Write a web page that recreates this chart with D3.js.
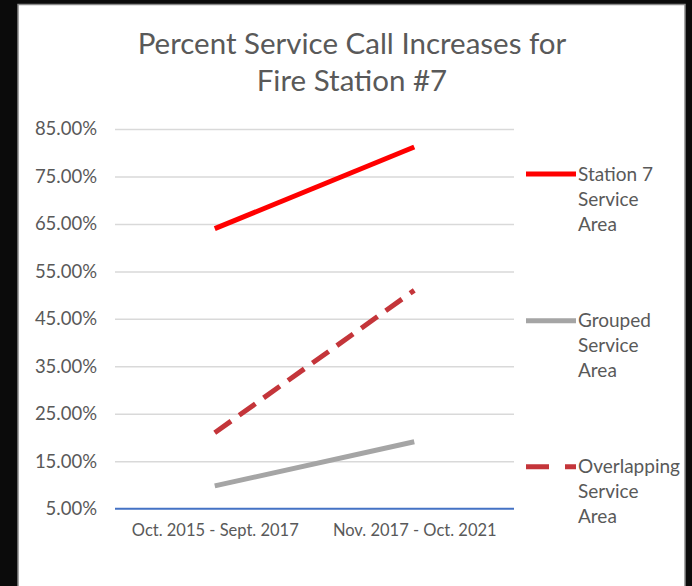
<!DOCTYPE html>
<html>
<head>
<meta charset="utf-8">
<script src="https://cdn.jsdelivr.net/npm/d3@7"></script>
<style>
  html, body { margin: 0; padding: 0; background: #0b0b0b; }
  svg { display: block; }
  text { font-family: Lato, "Open Sans", sans-serif; fill: #595959; }
</style>
</head>
<body>
<div id="chart"></div>
<script>
// chart values
const categories = ['Oct. 2015 - Sept. 2017', 'Nov. 2017 - Oct. 2021'];
const yTicks = [5, 15, 25, 35, 45, 55, 65, 75, 85];
const station7 = [64, 81.2];
const grouped = [9.8, 19.1];
const overlapping = [21, 51];
const seriesNames = [['Station 7', 'Service', 'Area'], ['Grouped', 'Service', 'Area'], ['Overlapping', 'Service', 'Area']];

const width = 692;
const height = 586;

const svg = d3.select('#chart')
    .append('svg')
    .attr('width', width)
    .attr('height', height);

// white chart area inside black frame
svg.append('rect')
    .attr('x', 18)
    .attr('y', 4.5)
    .attr('width', 667)
    .attr('height', 600)
    .attr('fill', '#fff')
    .attr('stroke', '#8a8a8a')
    .attr('stroke-width', 1.5);

// title
const title = svg.append('text')
    .attr('x', 352)
    .attr('text-anchor', 'middle')
    .style('font-size', '29.5px');
title.append('tspan').attr('x', 352).attr('y', 54).text('Percent Service Call Increases for');
title.append('tspan').attr('x', 352).attr('y', 91).text('Fire Station #7');

const x = d3.scalePoint()
    .domain(categories)
    .range([115, 514])
    .padding(0.5);

const y = d3.scaleLinear()
    .domain([5, 85])
    .range([508.7, 129]);

// gridlines
svg.append('g')
    .attr('transform', 'translate(115,0)')
    .call(d3.axisLeft(y).tickValues(yTicks.slice(1)).tickSize(-399).tickFormat(''))
    .call(g => g.select('.domain').remove())
    .call(g => g.selectAll('line').attr('stroke', '#d9d9d9').attr('stroke-width', 1.5));

// y labels
svg.append('g')
    .attr('transform', 'translate(97,0)')
    .call(d3.axisLeft(y).tickValues(yTicks).tickSize(0).tickPadding(0).tickFormat(d => d.toFixed(2) + '%'))
    .call(g => g.select('.domain').remove())
    .call(g => g.selectAll('text').style('font-size', '18.5px').attr('fill', '#595959'));

// x axis (blue baseline)
svg.append('g')
    .attr('transform', 'translate(0,' + y(5) + ')')
    .call(d3.axisBottom(x).tickSize(0).tickPadding(16))
    .call(g => g.select('.domain').attr('stroke', '#4472c4').attr('stroke-width', 2).attr('d', 'M115,0H514'))
    .call(g => g.selectAll('text').style('font-size', '16.5px').attr('fill', '#595959'));

const line = d3.line()
    .x((d, i) => x(categories[i]))
    .y(d => y(d));

const series = [
    { values: station7, color: '#ff0000', dash: null },
    { values: grouped, color: '#a5a5a5', dash: null },
    { values: overlapping, color: '#c4353a', dash: '20,10' }
];

svg.append('g')
    .selectAll('path')
    .data(series)
    .join('path')
    .attr('d', d => line(d.values))
    .attr('fill', 'none')
    .attr('stroke', d => d.color)
    .attr('stroke-width', 5)
    .attr('stroke-dasharray', d => d.dash);

// legend
const legendY = [174, 320.7, 466.7];
const legend = svg.append('g')
    .selectAll('g')
    .data(series)
    .join('g')
    .attr('transform', (d, i) => 'translate(526,' + legendY[i] + ')');

legend.append('line')
    .attr('x1', 0)
    .attr('x2', 50)
    .attr('stroke', d => d.color)
    .attr('stroke-width', 5)
    .attr('stroke-dasharray', d => d.dash ? '23,16' : null);

legend.append('text')
    .attr('x', 52)
    .style('font-size', '19px')
    .selectAll('tspan')
    .data((d, i) => seriesNames[i])
    .join('tspan')
    .attr('x', 52)
    .attr('y', (d, i) => 6.5 + i * 25)
    .text(d => d);
</script>
</body>
</html>
